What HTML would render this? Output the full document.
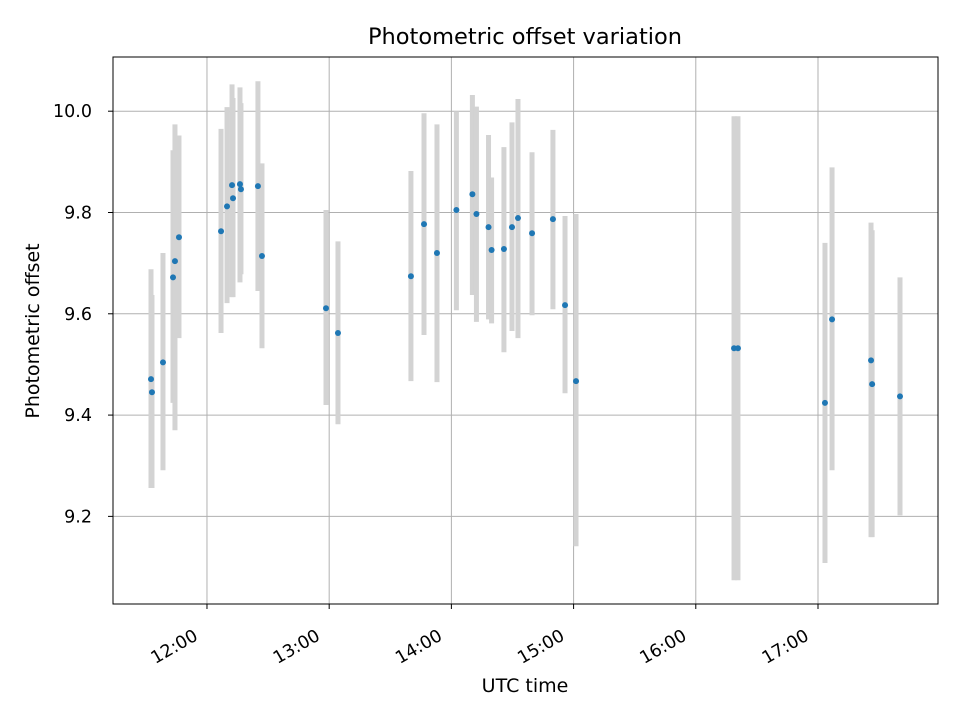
<!DOCTYPE html>
<html><head><meta charset="utf-8"><style>
body{margin:0;background:#fff}
svg text{font-family:"DejaVu Sans","Liberation Sans",sans-serif;fill:#000}
</style></head><body>
<svg id="chart" width="960" height="720" viewBox="0 0 960 720" xmlns="http://www.w3.org/2000/svg">
<rect width="960" height="720" fill="#fff"/>
<g id="grid"></g><g id="bars"></g><g id="dots"></g><g id="axes"></g>
<text x="525" y="44" text-anchor="middle" font-size="22.5">Photometric offset variation</text>
<text x="525" y="692" text-anchor="middle" font-size="19">UTC time</text>
<text transform="translate(39,331) rotate(-90)" text-anchor="middle" font-size="19">Photometric offset</text>
</svg>
<script>
const times=[11.542,11.550,11.640,11.722,11.738,11.771,12.115,12.164,12.205,12.213,12.270,12.278,12.417,12.450,12.974,13.072,13.669,13.776,13.882,14.041,14.172,14.205,14.304,14.329,14.430,14.496,14.545,14.660,14.831,14.930,15.020,16.313,16.345,17.057,17.115,17.434,17.443,17.671];
const offsets=[9.471,9.445,9.504,9.672,9.704,9.751,9.763,9.812,9.854,9.828,9.856,9.846,9.852,9.714,9.611,9.562,9.674,9.777,9.720,9.805,9.836,9.797,9.771,9.726,9.728,9.771,9.789,9.759,9.787,9.617,9.467,9.532,9.532,9.424,9.589,9.508,9.461,9.437];
const upper=[9.688,9.637,9.720,9.923,9.974,9.952,9.965,10.008,10.053,10.026,10.047,10.016,10.059,9.897,9.805,9.743,9.882,9.996,9.974,10.000,10.032,10.009,9.953,9.869,9.929,9.978,10.024,9.919,9.963,9.793,9.797,9.990,9.990,9.740,9.889,9.780,9.765,9.672];
const lower=[9.256,9.256,9.291,9.424,9.370,9.552,9.562,9.621,9.633,9.633,9.662,9.678,9.645,9.532,9.420,9.382,9.467,9.558,9.465,9.607,9.637,9.584,9.589,9.581,9.524,9.566,9.552,9.597,9.609,9.443,9.141,9.074,9.074,9.108,9.291,9.159,9.159,9.202];
const xTicks=[12,13,14,15,16,17];
const xTickLabels=["12:00","13:00","14:00","15:00","16:00","17:00"];
const yTicks=[9.2,9.4,9.6,9.8,10.0];
const yTickLabels=["9.2","9.4","9.6","9.8","10.0"];
const L=113,R=938,T=57,B=604,xMin=11.231,xMax=17.982,yMin=9.027,yMax=10.107;
const X=h=>L+(h-xMin)/(xMax-xMin)*(R-L);
const Y=v=>B-(v-yMin)/(yMax-yMin)*(B-T);
const NS="http://www.w3.org/2000/svg";
function mk(tag,parent,attrs){const e=document.createElementNS(NS,tag);for(const k in attrs)e.setAttribute(k,attrs[k]);document.getElementById(parent).appendChild(e);return e;}
xTicks.forEach((t,i)=>{
 const g=mk('line','grid',{x1:X(t),x2:X(t),y1:T,y2:B,stroke:'#b0b0b0','stroke-width':1});
 
 
 const tk=mk('line','axes',{x1:X(t),x2:X(t),y1:B,y2:B+5,stroke:'#000'});
 
 
 const tx=mk('text','axes',{transform:`translate(${X(t)-8},${B+35}) rotate(-30)`,'text-anchor':'end','font-size':17.5});
 tx.textContent=xTickLabels[i];
 
 
});
yTicks.forEach((v,i)=>{
 const g=mk('line','grid',{x1:L,x2:R,y1:Y(v),y2:Y(v),stroke:'#b0b0b0','stroke-width':1});
 
 
 const tk=mk('line','axes',{x1:L-5,x2:L,y1:Y(v),y2:Y(v),stroke:'#000'});
 
 
 const tx=mk('text','axes',{x:L-21,y:Y(v)+6,'text-anchor':'end','font-size':17.5});
 tx.textContent=yTickLabels[i];
 
 
});
const frame=mk('rect','axes',{x:L,y:T,width:R-L,height:B-T,fill:'none',stroke:'#000','stroke-width':1});


times.forEach((t,i)=>{
 const b=mk('line','bars',{x1:X(t),x2:X(t),y1:Y(upper[i]),y2:Y(lower[i]),stroke:'#d3d3d3','stroke-width':5});
 
 
 const d=mk('circle','dots',{cx:X(t),cy:Y(offsets[i]),r:3,fill:'#1f77b4'});
 
 
});
</script>
</body></html>
